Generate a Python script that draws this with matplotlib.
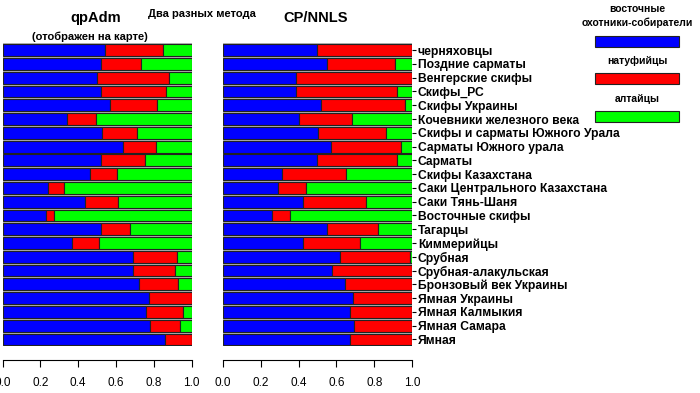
import numpy as np
import matplotlib.pyplot as plt

plt.rcParams['font.family'] = ['Liberation Sans', 'DejaVu Sans']

# Популяции (сверху вниз)
populations = ['черняховцы', 'Поздние сарматы', 'Венгерские скифы', 'Скифы_РС',
               'Скифы Украины', 'Кочевники железного века',
               'Скифы и сарматы Южного Урала', 'Сарматы Южного урала', 'Сарматы',
               'Скифы Казахстана', 'Саки Центрального Казахстана', 'Саки Тянь-Шаня',
               'Восточные скифы', 'Тагарцы', 'Киммерийцы', 'Срубная',
               'Срубная-алакульская', 'Бронзовый век Украины', 'Ямная Украины',
               'Ямная Калмыкия', 'Ямная Самара', 'Ямная']

# qpAdm: доли восточных охотников-собирателей и натуфийцев (остальное - алтайцы)
qp_ehg = [0.541, 0.519, 0.501, 0.520, 0.568, 0.342, 0.527, 0.637, 0.522, 0.460, 0.238,
          0.436, 0.228, 0.522, 0.367, 0.691, 0.688, 0.723, 0.772, 0.757, 0.778, 0.857]
qp_nat = [0.306, 0.213, 0.381, 0.342, 0.250, 0.154, 0.186, 0.173, 0.233, 0.147, 0.088,
          0.176, 0.044, 0.152, 0.141, 0.230, 0.226, 0.205, 0.228, 0.195, 0.160, 0.143]

# CP/NNLS
nn_ehg = [0.496, 0.548, 0.388, 0.387, 0.518, 0.401, 0.504, 0.571, 0.497, 0.311, 0.290,
          0.424, 0.262, 0.552, 0.425, 0.617, 0.578, 0.643, 0.685, 0.673, 0.694, 0.670]
nn_nat = [0.504, 0.361, 0.612, 0.530, 0.442, 0.279, 0.357, 0.369, 0.420, 0.341, 0.151,
          0.332, 0.095, 0.269, 0.299, 0.372, 0.422, 0.357, 0.315, 0.327, 0.306, 0.330]

colors = ['#0000ff', '#ff0000', '#00ff00']
legend_names = ['восточные\nохотники-собиратели', 'натуфийцы', 'алтайцы']

fig = plt.figure(figsize=(7, 3.93), dpi=100)
ax1 = fig.add_axes([2.5 / 700, 0.1188, 189.2 / 700, 0.7711])
ax2 = fig.add_axes([222.7 / 700, 0.1188, 189.6 / 700, 0.7711])

y = np.arange(len(populations))

for ax, ehg, nat in [(ax1, qp_ehg, qp_nat), (ax2, nn_ehg, nn_nat)]:
    ehg = np.array(ehg)
    nat = np.array(nat)
    alt = 1 - ehg - nat
    ax.set_facecolor('#b4b4b4')
    kw = dict(height=0.86, edgecolor='#222222', linewidth=0.8)
    ax.barh(y, ehg, color=colors[0], **kw)
    ax.barh(y, nat, left=ehg, color=colors[1], **kw)
    ax.barh(y, alt, left=ehg + nat, color=colors[2], **kw)
    ax.set_xlim(0, 1)
    ax.set_ylim(len(populations) - 0.5, -0.5)
    for s in ['top', 'left', 'right']:
        ax.spines[s].set_visible(False)
    ax.spines['bottom'].set_position(('outward', 10))
    ax.spines['bottom'].set_bounds(0, 1)
    ax.set_xticks([0, 0.2, 0.4, 0.6, 0.8, 1.0])
    ax.set_xticklabels(['0.0', '0.2', '0.4', '0.6', '0.8', '1.0'])
    ax.tick_params(axis='x', length=5, labelsize=8.5, pad=7)

ax1.set_yticks([])
ax2.yaxis.tick_right()
ax2.set_yticks(y)
ax2.set_yticklabels(populations, fontsize=8.7, fontweight='bold')
ax2.tick_params(axis='y', length=3, pad=1)

fig.text(96 / 700, 1 - 18 / 393, 'qpAdm', ha='center', va='center', fontsize=10.5, fontweight='bold')
fig.text(90 / 700, 1 - 37 / 393, '(отображен на карте)', ha='center', va='center', fontsize=8, fontweight='bold')
fig.text(202 / 700, 1 - 14 / 393, 'Два разных метода', ha='center', va='center', fontsize=8, fontweight='bold')
fig.text(316 / 700, 1 - 18 / 393, 'CP/NNLS', ha='center', va='center', fontsize=10.5, fontweight='bold')

# легенда справа
leg_text_y = [16, 61, 99]
leg_bar_y = [41.5, 78.5, 116.5]
for name, c, ty, by in zip(legend_names, colors, leg_text_y, leg_bar_y):
    fig.text(637 / 700, 1 - ty / 393, name, ha='center', va='center', fontsize=7.5,
             fontweight='bold', linespacing=1.5)
    fig.patches.append(plt.Rectangle((595 / 700, 1 - (by + 5.5) / 393), 84 / 700, 11 / 393,
                                     transform=fig.transFigure, facecolor=c,
                                     edgecolor='#222222', linewidth=0.8))

fig.savefig('out.png', dpi=100)
